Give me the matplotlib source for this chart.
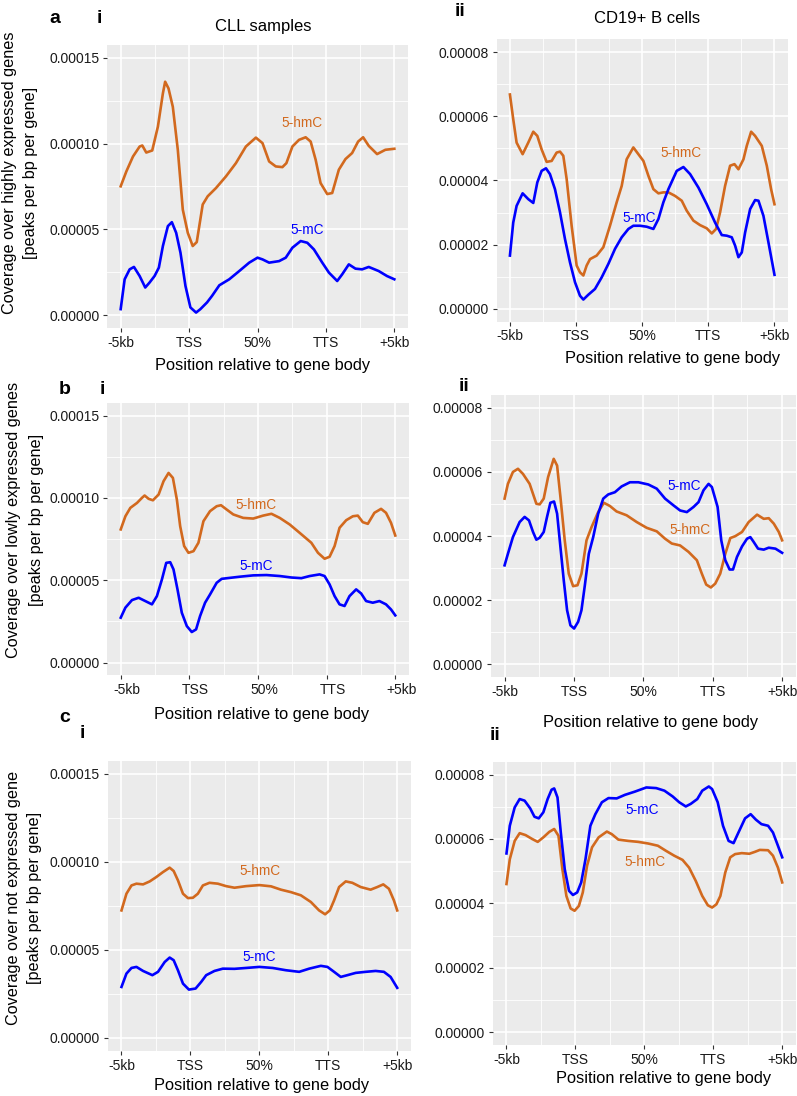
import matplotlib
matplotlib.use('Agg')
import matplotlib.pyplot as plt
import matplotlib.transforms as mtransforms

plt.rcParams['font.family'] = ['Liberation Sans', 'DejaVu Sans']

W, H = 797, 1096
SCALE = 1e-5  # values below are in units of 1e-5 peaks per bp per gene

xtick_pos = [0, 1, 2, 3, 4]
xtick_labels = ['-5kb', 'TSS', '50%', 'TTS', '+5kb']
left_yticks = [0, 5e-5, 1e-4, 1.5e-4]
right_yticks = [0, 2e-5, 4e-5, 6e-5, 8e-5]

# ---------------- a-i (CLL, highly expressed) ----------------
ai_hmc_x = [0, 0.083, 0.18, 0.277, 0.316, 0.374, 0.461, 0.544, 0.617, 0.650, 0.699, 0.762, 0.835,
            0.908, 0.981, 1.053, 1.112, 1.199, 1.272, 1.393, 1.539, 1.684, 1.830, 1.976, 2.073,
            2.170, 2.267, 2.364, 2.422, 2.510, 2.607, 2.704, 2.777, 2.850, 2.922, 3.019, 3.092,
            3.189, 3.286, 3.383, 3.471, 3.544, 3.626, 3.748, 3.869, 4.0]
ai_hmc_y = [7.51, 8.38, 9.25, 9.83, 9.89, 9.48, 9.60, 10.99, 12.93, 13.61, 13.22, 12.15, 9.64,
            6.15, 4.80, 4.03, 4.26, 6.45, 6.93, 7.41, 8.09, 8.86, 9.83, 10.35, 10.03,
            8.96, 8.67, 8.63, 8.86, 9.83, 10.22, 10.37, 10.12, 9.06, 7.70, 7.06, 7.12,
            8.48, 9.10, 9.45, 10.12, 10.37, 9.87, 9.39, 9.64, 9.70]
ai_mc_x = [0, 0.058, 0.131, 0.194, 0.277, 0.359, 0.422, 0.495, 0.558, 0.617, 0.690, 0.748, 0.811,
           0.874, 0.947, 1.019, 1.102, 1.165, 1.262, 1.335, 1.442, 1.587, 1.733, 1.879, 2.0,
           2.073, 2.170, 2.316, 2.413, 2.510, 2.631, 2.728, 2.825, 2.947, 3.044, 3.165, 3.238,
           3.335, 3.432, 3.529, 3.626, 3.772, 3.893, 4.0]
ai_mc_y = [0.35, 2.09, 2.67, 2.81, 2.28, 1.61, 1.90, 2.28, 2.77, 4.03, 5.19, 5.42, 4.80,
           3.64, 1.70, 0.45, 0.15, 0.35, 0.74, 1.12, 1.74, 2.09, 2.57, 3.06, 3.35,
           3.25, 3.06, 3.15, 3.35, 3.93, 4.32, 4.22, 3.83, 3.06, 2.48, 1.99, 2.38,
           2.96, 2.71, 2.67, 2.81, 2.57, 2.28, 2.09]

# ---------------- a-ii (CD19+, highly expressed) ----------------
aii_hmc_x = [0, 0.05, 0.101, 0.192, 0.277, 0.353, 0.414, 0.479, 0.555, 0.631, 0.706, 0.757, 0.807,
             0.858, 0.933, 1.009, 1.059, 1.110, 1.160, 1.211, 1.311, 1.412, 1.513, 1.614, 1.690,
             1.765, 1.866, 1.942, 2.018, 2.093, 2.169, 2.245, 2.320, 2.396, 2.497, 2.598, 2.673,
             2.774, 2.875, 2.976, 3.052, 3.117, 3.178, 3.253, 3.329, 3.395, 3.455, 3.531, 3.581,
             3.647, 3.707, 3.808, 3.884, 3.949, 4.0]
aii_hmc_y = [6.68, 5.91, 5.18, 4.82, 5.18, 5.52, 5.39, 4.97, 4.58, 4.61, 4.87, 4.90, 4.77,
             4.04, 2.59, 1.35, 1.14, 1.04, 1.35, 1.55, 1.66, 1.92, 2.59, 3.32, 3.83,
             4.66, 5.03, 4.82, 4.61, 4.15, 3.73, 3.60, 3.63, 3.63, 3.52, 3.37, 3.06,
             2.75, 2.61, 2.51, 2.35, 2.49, 3.01, 3.83, 4.46, 4.51, 4.35, 4.66, 5.08,
             5.52, 5.39, 5.08, 4.46, 3.73, 3.26]
aii_mc_x = [0, 0.05, 0.101, 0.192, 0.277, 0.353, 0.414, 0.479, 0.545, 0.605, 0.681, 0.757, 0.832,
            0.908, 0.984, 1.059, 1.110, 1.185, 1.286, 1.387, 1.488, 1.589, 1.690, 1.791, 1.866,
            1.967, 2.068, 2.169, 2.245, 2.320, 2.396, 2.522, 2.623, 2.724, 2.850, 2.976, 3.102,
            3.203, 3.279, 3.354, 3.405, 3.455, 3.506, 3.556, 3.632, 3.707, 3.758, 3.833, 3.909, 4.0]
aii_mc_y = [1.66, 2.69, 3.21, 3.60, 3.42, 3.30, 3.94, 4.30, 4.38, 4.20, 3.73, 3.01, 2.18,
            1.45, 0.83, 0.41, 0.29, 0.44, 0.62, 0.98, 1.40, 1.87, 2.23, 2.49, 2.59,
            2.59, 2.56, 2.49, 2.80, 3.32, 3.73, 4.30, 4.42, 4.20, 3.78, 3.26, 2.69,
            2.30, 2.28, 2.23, 1.97, 1.61, 1.76, 2.38, 3.11, 3.39, 3.37, 2.90, 2.07, 1.06]

# ---------------- b-i (CLL, lowly expressed) ----------------
bi_hmc_x = [0, 0.068, 0.14, 0.237, 0.31, 0.348, 0.406, 0.469, 0.552, 0.624, 0.697, 0.760, 0.818,
            0.866, 0.924, 0.987, 1.060, 1.132, 1.205, 1.301, 1.398, 1.461, 1.543, 1.640, 1.785,
            1.930, 2.075, 2.196, 2.317, 2.462, 2.608, 2.777, 2.874, 2.970, 3.043, 3.116, 3.188,
            3.285, 3.382, 3.454, 3.527, 3.6, 3.696, 3.793, 3.865, 3.938, 4.0]
bi_hmc_y = [8.09, 8.89, 9.40, 9.70, 10.01, 10.15, 9.95, 9.86, 10.21, 11.02, 11.52, 11.22, 9.90,
            8.29, 7.08, 6.67, 6.77, 7.28, 8.59, 9.20, 9.50, 9.56, 9.30, 9.00, 8.79,
            8.75, 8.93, 9.04, 8.79, 8.39, 7.88, 7.28, 6.67, 6.31, 6.43, 7.08, 8.19,
            8.65, 8.89, 8.93, 8.53, 8.43, 9.10, 9.34, 9.10, 8.49, 7.72]
bi_mc_x = [0, 0.068, 0.164, 0.261, 0.358, 0.455, 0.527, 0.6, 0.663, 0.721, 0.769, 0.827, 0.890,
           0.963, 1.035, 1.098, 1.156, 1.229, 1.301, 1.398, 1.471, 1.592, 1.737, 1.930, 2.124,
           2.317, 2.487, 2.632, 2.753, 2.898, 2.970, 3.043, 3.116, 3.188, 3.261, 3.333, 3.430,
           3.503, 3.575, 3.672, 3.769, 3.865, 3.938, 4.0]
bi_mc_y = [2.73, 3.34, 3.80, 3.94, 3.74, 3.54, 4.04, 5.05, 6.06, 6.10, 5.66, 4.45, 3.03,
           2.22, 1.86, 2.02, 2.83, 3.64, 4.14, 4.85, 5.09, 5.15, 5.22, 5.30, 5.32,
           5.26, 5.17, 5.13, 5.26, 5.36, 5.26, 4.75, 4.04, 3.54, 3.44, 4.04, 4.45,
           4.20, 3.74, 3.64, 3.74, 3.54, 3.23, 2.87]

# ---------------- b-ii (CD19+, lowly expressed) ----------------
bii_hmc_x = [0, 0.048, 0.12, 0.193, 0.265, 0.361, 0.458, 0.506, 0.564, 0.627, 0.708, 0.757, 0.805,
             0.867, 0.925, 0.988, 1.051, 1.108, 1.181, 1.253, 1.349, 1.431, 1.518, 1.614, 1.759,
             1.904, 2.048, 2.193, 2.313, 2.410, 2.530, 2.651, 2.771, 2.843, 2.906, 2.973, 3.036,
             3.108, 3.181, 3.253, 3.325, 3.422, 3.518, 3.639, 3.735, 3.807, 3.880, 3.952, 4.0]
bii_hmc_y = [5.17, 5.63, 6.00, 6.10, 5.94, 5.63, 5.01, 4.99, 5.17, 5.84, 6.41, 6.20, 5.22,
             3.87, 2.83, 2.44, 2.47, 2.83, 3.87, 4.28, 4.75, 5.04, 4.94, 4.77, 4.65,
             4.44, 4.26, 4.15, 3.92, 3.77, 3.71, 3.51, 3.25, 2.83, 2.49, 2.40, 2.52,
             2.83, 3.45, 3.94, 4.00, 4.13, 4.44, 4.67, 4.54, 4.56, 4.39, 4.13, 3.87]
bii_mc_x = [0, 0.048, 0.12, 0.217, 0.289, 0.352, 0.410, 0.458, 0.506, 0.564, 0.612, 0.660, 0.713,
            0.757, 0.805, 0.853, 0.901, 0.949, 1.002, 1.060, 1.108, 1.157, 1.214, 1.277, 1.349,
            1.422, 1.494, 1.590, 1.687, 1.807, 1.928, 2.072, 2.193, 2.313, 2.434, 2.530, 2.627,
            2.723, 2.795, 2.867, 2.940, 2.988, 3.070, 3.123, 3.181, 3.243, 3.292, 3.349, 3.422,
            3.494, 3.542, 3.590, 3.653, 3.735, 3.807, 3.904, 4.0]
bii_mc_y = [3.09, 3.45, 3.97, 4.44, 4.60, 4.49, 4.13, 3.89, 3.95, 4.13, 4.60, 5.04, 5.08,
            4.70, 3.66, 2.62, 1.69, 1.22, 1.12, 1.33, 1.69, 2.47, 3.45, 3.97, 4.70,
            5.17, 5.30, 5.37, 5.55, 5.68, 5.68, 5.61, 5.48, 5.17, 4.96, 4.80, 4.75,
            4.91, 5.06, 5.43, 5.63, 5.53, 4.91, 3.87, 3.25, 2.96, 2.96, 3.35, 3.68,
            3.92, 3.97, 3.82, 3.61, 3.58, 3.64, 3.61, 3.48]

# ---------------- c-i (CLL, not expressed) ----------------
ci_hmc_x = [0, 0.072, 0.145, 0.217, 0.313, 0.410, 0.506, 0.602, 0.699, 0.757, 0.819, 0.892, 0.964,
            1.036, 1.108, 1.181, 1.277, 1.398, 1.518, 1.639, 1.807, 2.0, 2.169, 2.313, 2.458,
            2.602, 2.747, 2.867, 2.954, 3.022, 3.084, 3.157, 3.253, 3.349, 3.470, 3.614, 3.711,
            3.798, 3.880, 3.952, 4.0]
ci_hmc_y = [7.24, 8.19, 8.66, 8.76, 8.72, 8.89, 9.14, 9.42, 9.67, 9.48, 8.95, 8.19, 7.94,
            7.96, 8.19, 8.66, 8.81, 8.76, 8.62, 8.53, 8.62, 8.68, 8.61, 8.42, 8.28,
            8.10, 7.72, 7.24, 7.02, 7.24, 7.81, 8.57, 8.89, 8.81, 8.57, 8.42, 8.57,
            8.72, 8.47, 7.81, 7.24]
ci_mc_x = [0, 0.072, 0.145, 0.217, 0.313, 0.448, 0.530, 0.627, 0.699, 0.757, 0.819, 0.892, 0.978,
           1.075, 1.157, 1.229, 1.349, 1.470, 1.639, 1.807, 2.0, 2.193, 2.386, 2.578, 2.723,
           2.892, 2.988, 3.084, 3.181, 3.277, 3.398, 3.542, 3.687, 3.807, 3.904, 4.0]
ci_mc_y = [2.89, 3.65, 3.97, 4.03, 3.80, 3.56, 3.75, 4.31, 4.56, 4.41, 3.84, 3.08, 2.74,
           2.80, 3.18, 3.56, 3.80, 3.93, 3.92, 3.97, 4.03, 3.97, 3.84, 3.75, 3.93,
           4.09, 4.03, 3.75, 3.46, 3.56, 3.69, 3.75, 3.80, 3.75, 3.46, 2.84]

# ---------------- c-ii (CD19+, not expressed) ----------------
cii_mc_x = [0, 0.048, 0.119, 0.191, 0.263, 0.344, 0.406, 0.468, 0.535, 0.597, 0.654, 0.692, 0.740,
            0.788, 0.845, 0.907, 0.964, 1.026, 1.084, 1.146, 1.217, 1.289, 1.384, 1.480, 1.599,
            1.718, 1.862, 2.029, 2.172, 2.291, 2.411, 2.506, 2.601, 2.673, 2.768, 2.840, 2.935,
            2.983, 3.064, 3.141, 3.222, 3.294, 3.365, 3.461, 3.542, 3.618, 3.699, 3.795, 3.866,
            3.938, 4.0]
cii_mc_y = [5.55, 6.41, 6.98, 7.24, 7.19, 6.95, 6.69, 6.64, 6.83, 7.24, 7.53, 7.57, 7.29,
            6.20, 5.06, 4.39, 4.26, 4.34, 4.65, 5.37, 6.41, 6.77, 7.14, 7.27, 7.26,
            7.37, 7.47, 7.60, 7.58, 7.50, 7.32, 7.14, 7.01, 7.09, 7.24, 7.50, 7.63,
            7.55, 7.14, 6.41, 5.94, 5.87, 6.20, 6.64, 6.77, 6.60, 6.46, 6.41, 6.20,
            5.79, 5.43]
cii_hmc_x = [0, 0.048, 0.119, 0.191, 0.277, 0.372, 0.453, 0.535, 0.621, 0.692, 0.754, 0.811, 0.869,
             0.931, 0.988, 1.050, 1.107, 1.169, 1.241, 1.337, 1.456, 1.527, 1.623, 1.766, 1.909,
             2.053, 2.196, 2.315, 2.434, 2.554, 2.649, 2.745, 2.840, 2.921, 2.983, 3.045, 3.103,
             3.174, 3.246, 3.317, 3.413, 3.523, 3.604, 3.675, 3.795, 3.866, 3.938, 4.0]
cii_hmc_y = [4.60, 5.37, 5.94, 6.18, 6.12, 6.00, 5.91, 6.05, 6.22, 6.31, 6.10, 5.06, 4.23,
             3.84, 3.77, 3.92, 4.34, 5.17, 5.74, 6.05, 6.23, 6.15, 5.98, 5.94, 5.91,
             5.86, 5.79, 5.63, 5.48, 5.35, 5.11, 4.70, 4.23, 3.94, 3.87, 3.97, 4.23,
             4.96, 5.43, 5.53, 5.56, 5.54, 5.60, 5.66, 5.65, 5.48, 5.11, 4.65]

ORANGE = '#D2691E'
BLUE = '#0000FF'

fig = plt.figure(figsize=(W / 100, H / 100), dpi=100)


def px(x, y):
    return x / W, 1 - y / H


def panel(rect, yticks, ylim, ystep, hmc, mc, hmc_lab, mc_lab, xshift=0):
    l, t, r, b = rect
    ax = fig.add_axes([l / W, 1 - b / H, (r - l) / W, (b - t) / H])
    ax.set_facecolor('#EBEBEB')
    for s in ax.spines.values():
        s.set_visible(False)
    ax.set_xlim(-0.2, 4.2)
    ax.set_ylim(*ylim)
    ax.set_xticks(xtick_pos)
    ax.set_xticklabels(xtick_labels)
    ax.set_yticks(yticks)
    ax.set_yticklabels(['%.5f' % v for v in yticks])
    ax.set_xticks([0.5, 1.5, 2.5, 3.5], minor=True)
    ax.set_yticks([v + ystep / 2 for v in yticks[:-1]], minor=True)
    ax.grid(which='major', color='white', linewidth=1.2)
    ax.grid(which='minor', color='white', linewidth=0.6)
    ax.set_axisbelow(True)
    ax.tick_params(which='major', length=3, width=0.8, color='#333333',
                   labelsize=10, labelcolor='#1a1a1a', pad=2.5)
    ax.tick_params(which='minor', length=0)
    if xshift:
        off = mtransforms.ScaledTranslation(xshift / 100, 0, fig.dpi_scale_trans)
        for lab in ax.get_xticklabels():
            lab.set_transform(lab.get_transform() + off)
    ax.plot(hmc[0], [v * SCALE for v in hmc[1]], color=ORANGE, lw=1.9, solid_joinstyle='round')
    ax.plot(mc[0], [v * SCALE for v in mc[1]], color=BLUE, lw=1.9, solid_joinstyle='round')
    ax.text(hmc_lab[0], hmc_lab[1] * SCALE, '5-hmC', color=ORANGE, fontsize=9.8,
            ha='center', va='center')
    ax.text(mc_lab[0], mc_lab[1] * SCALE, '5-mC', color=BLUE, fontsize=9.8,
            ha='center', va='center')
    return ax


LYL = (-7.5e-6, 1.575e-4)
RYL = (-4e-6, 8.4e-5)

panel((107, 45, 408, 328), left_yticks, LYL, 5e-5, (ai_hmc_x, ai_hmc_y), (ai_mc_x, ai_mc_y),
      (2.655, 11.19), (2.728, 4.99))
panel((496.7, 39.3, 787.7, 321.7), right_yticks, RYL, 2e-5, (aii_hmc_x, aii_hmc_y),
      (aii_mc_x, aii_mc_y), (2.588, 4.87), (1.957, 2.83))
panel((107, 403.3, 409, 675), left_yticks, LYL, 5e-5, (bi_hmc_x, bi_hmc_y), (bi_mc_x, bi_mc_y),
      (1.969, 9.60), (1.979, 5.86), xshift=6)
panel((490.7, 395, 796, 677.3), right_yticks, RYL, 2e-5, (bii_hmc_x, bii_hmc_y),
      (bii_mc_x, bii_mc_y), (2.675, 4.18), (2.593, 5.56))
panel((107.7, 760.7, 411, 1051), left_yticks, LYL, 5e-5, (ci_hmc_x, ci_hmc_y), (ci_mc_x, ci_mc_y),
      (2.014, 9.46), (2.0, 4.60))
panel((492.7, 761.7, 796, 1045), right_yticks, RYL, 2e-5, (cii_hmc_x, cii_hmc_y),
      (cii_mc_x, cii_mc_y), (2.005, 5.27), (1.971, 6.91))


def ftext(x, y, s, **kw):
    fig.text(*px(x, y), s, **kw)


# panel letters and numerals
ftext(55, 23.3, 'a', fontsize=14, fontweight='bold', ha='center', va='baseline')
ftext(99.7, 23.3, 'i', fontsize=14, fontweight='bold', ha='center', va='baseline')
ftext(460.5, 16, 'ii', fontsize=14, fontweight='bold', ha='center', va='baseline')
ftext(65, 394, 'b', fontsize=14, fontweight='bold', ha='center', va='baseline')
ftext(102, 394, 'i', fontsize=14, fontweight='bold', ha='center', va='baseline')
ftext(463.8, 390.7, 'ii', fontsize=14, fontweight='bold', ha='center', va='baseline')
ftext(65, 722, 'c', fontsize=14, fontweight='bold', ha='center', va='baseline')
ftext(82, 738, 'i', fontsize=14, fontweight='bold', ha='center', va='baseline')
ftext(495, 740, 'ii', fontsize=14, fontweight='bold', ha='center', va='baseline')

# column titles
ftext(263, 30.5, 'CLL samples', fontsize=12, ha='center', va='baseline')
ftext(646.7, 23.3, 'CD19+ B cells', fontsize=12, ha='center', va='baseline')

# x axis titles
XL = 'Position relative to gene body'
ftext(262.7, 370, XL, fontsize=11.8, ha='center', va='baseline')
ftext(672.7, 362.7, XL, fontsize=11.8, ha='center', va='baseline')
ftext(262, 719, XL, fontsize=11.8, ha='center', va='baseline')
ftext(650.7, 727, XL, fontsize=11.8, ha='center', va='baseline')
ftext(262, 1090, XL, fontsize=11.8, ha='center', va='baseline')
ftext(663.3, 1083, XL, fontsize=11.8, ha='center', va='baseline')

# y axis titles
ftext(10, 172.5, 'Coverage over highly expressed genes', fontsize=11.7, rotation=90,
      ha='center', va='center')
ftext(30.8, 172.5, '[peaks per bp per gene]', fontsize=11.7, rotation=90, ha='center', va='center')
ftext(14, 520, 'Coverage over lowly expressed genes', fontsize=11.7, rotation=90,
      ha='center', va='center')
ftext(36.7, 520, '[peaks per bp per gene]', fontsize=11.7, rotation=90, ha='center', va='center')
ftext(13.3, 898, 'Coverage over not expressed gene', fontsize=11.7, rotation=90,
      ha='center', va='center')
ftext(35, 898, '[peaks per bp per gene]', fontsize=11.7, rotation=90, ha='center', va='center')

fig.savefig('out.png', dpi=100, facecolor='white')
